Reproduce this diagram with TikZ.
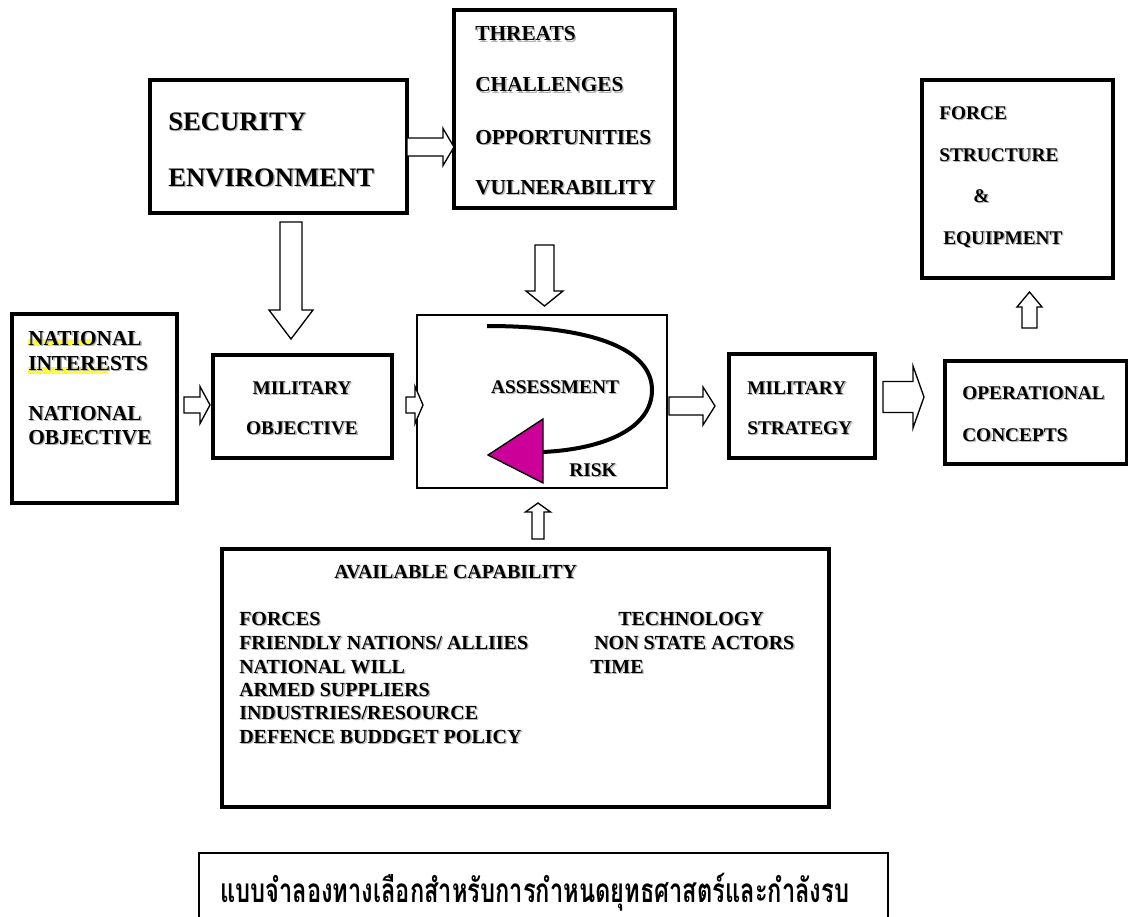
\documentclass[tikz,border=0pt]{standalone}
\usepackage{fontspec}
\setmainfont{Liberation Serif}
\newfontfamily\thaifont[Script=Thai]{Loma}
\usetikzlibrary{calc,fit}
\definecolor{riskpink}{RGB}{204,0,153}
\definecolor{hilite}{RGB}{255,250,60}
% text with a light drop shadow
\newcommand{\shd}[1]{\leavevmode\rlap{\hspace{1pt}\raisebox{-1pt}{\textcolor{black!30}{#1}}}#1}

\begin{document}
\begin{tikzpicture}[x=0.75pt,y=-0.75pt,
    box/.style={draw, line width=3pt, inner sep=0pt},
    thinbox/.style={draw, line width=1.5pt, inner sep=0pt},
    bigtxt/.style={inner sep=0pt, font=\fontsize{20}{24}\selectfont\bfseries},
    midtxt/.style={inner sep=0pt, font=\fontsize{16}{19}\selectfont\bfseries},
    smalltxt/.style={inner sep=0pt, font=\fontsize{14.5}{17}\selectfont\bfseries},
    captxt/.style={inner sep=0pt, font=\fontsize{15}{18}\selectfont\bfseries},
    thaitxt/.style={inner sep=0pt, font=\fontsize{25}{30}\selectfont\thaifont\bfseries},
    blockarr/.style n args={3}{draw, line width=1pt, fill=white,
      to path={
        ($(\tikztotarget)!#3!(\tikztostart)$) coordinate (tmpB)
        ($(\tikztostart)!#1!90:(\tikztotarget)$)
        -- ($(tmpB)!#1!-90:(\tikztostart)$)
        -- ($(tmpB)!#2!-90:(\tikztostart)$)
        -- (\tikztotarget)
        -- ($(tmpB)!#2!90:(\tikztostart)$)
        -- ($(tmpB)!#1!90:(\tikztostart)$)
        -- ($(\tikztostart)!#1!-90:(\tikztotarget)$) -- cycle}}
  ]
  \useasboundingbox (0,0) rectangle (1128,917);
  \clip (0,0) rectangle (1128,917);

  % boxes
  \node[box, fit={(150,80) (407,213)}] (sec) {};
  \node[box, fit={(454,10) (675,208)}] (thr) {};
  \node[box, fit={(12,314) (177,503)}] (nat) {};
  \node[box, fit={(213,355) (392,458)}] (mil) {};
  \node[thinbox, fit={(417,315) (667,488)}] (ass) {};
  \node[box, fit={(729,354) (875,458)}] (ms) {};
  \node[box, fit={(945,361) (1127,464)}] (op) {};
  \node[box, fit={(922,80) (1113,278)}] (force) {};
  \node[box, fit={(222,549) (829,807)}] (cap) {};
  \node[draw, line width=1pt, inner sep=0pt, fit={(199,853) (888,940)}] (thai) {};

  % highlight marks
  \fill[hilite] (28,339) rectangle (95,346);
  \fill[hilite] (28,367) rectangle (108,374);

  % texts
  \node[bigtxt, anchor=base west] (secA) at (168,130) {\shd{SECURITY}};
  \node[bigtxt, anchor=base west] (secB) at (168,186) {\shd{ENVIRONMENT}};

  \node[midtxt, anchor=base west] (thrA) at (475,41) {\shd{THREATS}};
  \node[midtxt, anchor=base west] (thrB) at (475,92) {\shd{CHALLENGES}};
  \node[midtxt, anchor=base west] (thrC) at (475,144) {\shd{OPPORTUNITIES}};
  \node[midtxt, anchor=base west] (thrD) at (475,194) {\shd{VULNERABILITY}};

  \node[midtxt, anchor=base west] (natA) at (28,345) {\shd{NATIONAL}};
  \node[midtxt, anchor=base west] (natB) at (28,370) {\shd{INTERESTS}};
  \node[midtxt, anchor=base west] (natC) at (28,420) {\shd{NATIONAL}};
  \node[midtxt, anchor=base west] (natD) at (28,444) {\shd{OBJECTIVE}};

  \node[smalltxt, anchor=base] (milA) at (302,394.5) {\shd{MILITARY}};
  \node[smalltxt, anchor=base] (milB) at (302,434.5) {\shd{OBJECTIVE}};

  \node[smalltxt, anchor=base] (assA) at (555,393.5) {\shd{ASSESSMENT}};
  \node[smalltxt, anchor=base] (assB) at (593,476.5) {\shd{RISK}};

  \node[smalltxt, anchor=base west] (msA) at (747,394.5) {\shd{MILITARY}};
  \node[smalltxt, anchor=base west] (msB) at (747,434.5) {\shd{STRATEGY}};

  \node[smalltxt, anchor=base west] (opA) at (962,399.5) {\shd{OPERATIONAL}};
  \node[smalltxt, anchor=base west] (opB) at (962,441.5) {\shd{CONCEPTS}};

  \node[smalltxt, anchor=base west] (forceA) at (939,119.5) {\shd{FORCE}};
  \node[smalltxt, anchor=base west] (forceB) at (939,161.5) {\shd{STRUCTURE}};
  \node[smalltxt, anchor=base west] (forceC) at (973,202.5) {\shd{\&}};
  \node[smalltxt, anchor=base west] (forceD) at (943,244.5) {\shd{EQUIPMENT}};

  \node[captxt, anchor=base west] (capT) at (334,578.6) {\shd{AVAILABLE CAPABILITY}};
  \node[captxt, anchor=base west] (capA) at (239,625.6) {\shd{FORCES}};
  \node[captxt, anchor=base west] (capB) at (239,649.6) {\shd{FRIENDLY NATIONS/ ALLIIES}};
  \node[captxt, anchor=base west] (capC) at (239,673.6) {\shd{NATIONAL WILL}};
  \node[captxt, anchor=base west] (capD) at (239,696.6) {\shd{ARMED SUPPLIERS}};
  \node[captxt, anchor=base west] (capE) at (239,719.6) {\shd{INDUSTRIES/RESOURCE}};
  \node[captxt, anchor=base west] (capF) at (239,743.6) {\shd{DEFENCE BUDDGET POLICY}};
  \node[captxt, anchor=base west] (capG) at (618,625.6) {\shd{TECHNOLOGY}};
  \node[captxt, anchor=base west] (capH) at (594,649.6) {\shd{NON STATE ACTORS}};
  \node[captxt, anchor=base west] (capI) at (590,673.6) {\shd{TIME}};

  \node[thaitxt, anchor=base west] (thaiA) at (220,902)
    {\scalebox{0.71}[1]{แบบจำลองทางเลือกสำหรับการกำหนดยุทธศาสตร์และกำลังรบ}};

  % assessment loop
  \draw[line width=3pt] (487,326) .. controls (600,326) and (652,352) .. (652,390)
    .. controls (652,428) and (605,449) .. (543,452);
  \draw[fill=riskpink, line width=1pt] (543,419) -- (488,455) -- (543,483) -- cycle;

  % arrow ends
  \coordinate (secT) at (407,147);   \coordinate (thrH) at (454,147);
  \coordinate (secS) at (291,222);   \coordinate (milH) at (291,339);
  \coordinate (thrS) at (544.5,245); \coordinate (assH) at (544.5,306);
  \coordinate (natT) at (184,405);   \coordinate (natH) at (210,405);
  \coordinate (milT) at (406,405);   \coordinate (milE) at (423,405);
  \coordinate (assT) at (669,406);   \coordinate (msH) at (715,406);
  \coordinate (msT) at (883,397);    \coordinate (opH) at (924,397);
  \coordinate (opT) at (1029.5,328); \coordinate (forceH) at (1029.5,292);
  \coordinate (capU) at (538,539);   \coordinate (assU) at (538,503);

  % block arrows
  \draw[blockarr={6.75pt}{13.9pt}{8.25pt}] (secT) to (thrH);
  \draw[blockarr={8.25pt}{16.5pt}{21.75pt}] (secS) to (milH);
  \draw[blockarr={7.1pt}{13.9pt}{11.25pt}] (thrS) to (assH);
  \draw[blockarr={6pt}{13.9pt}{7.5pt}] (natT) to (natH);
  \draw[blockarr={6pt}{13.9pt}{6pt}] (milT) to (milE);
  \draw[blockarr={6.75pt}{14.25pt}{9pt}] (assT) to (msH);
  \draw[blockarr={11.6pt}{23.25pt}{8.25pt}] (msT) to (opH);
  \draw[blockarr={5.6pt}{9.4pt}{11.25pt}] (opT) to (forceH);
  \draw[blockarr={4.5pt}{9.4pt}{6.75pt}] (capU) to (assU);
\end{tikzpicture}
\end{document}
